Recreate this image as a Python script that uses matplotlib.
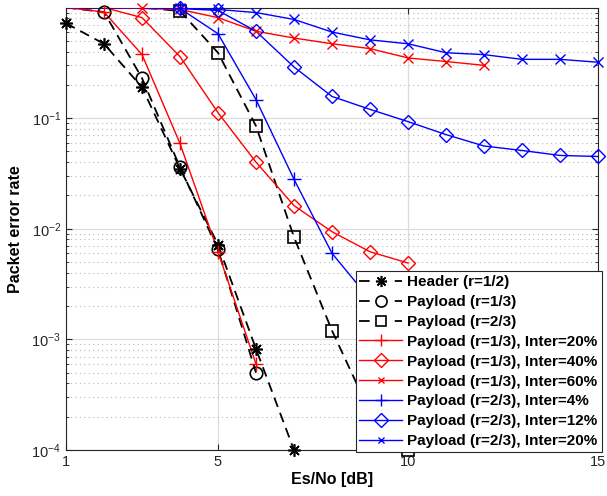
import numpy as np
import matplotlib
matplotlib.use('Agg')
import matplotlib.pyplot as plt
from matplotlib.lines import Line2D
from matplotlib.ticker import LogLocator, NullFormatter

plt.rcParams['font.family'] = ['Liberation Sans', 'DejaVu Sans']
plt.rcParams['mathtext.default'] = 'regular'

# Es/No points (dB)
esno = np.arange(1, 16)

# packet error rate per curve
header_12 = [0.72, 0.47, 0.19, 0.035, 0.0072, 8.2e-4, 1.0e-4]
payload_13 = [1.0, 0.91, 0.23, 0.036, 0.0065, 5.0e-4]
payload_23 = [1.0, 1.0, 1.0, 0.93, 0.39, 0.085, 0.0084, 1.2e-3, 2.2e-4, 1.0e-4]
p13_i20 = [1.0, 0.91, 0.376, 0.059, 0.0062, 6.0e-4]
p13_i40 = [1.0, 1.0, 0.81, 0.36, 0.112, 0.040, 0.0162, 0.0094, 0.0062, 0.0049]
p13_i60 = [1.0, 1.0, 0.98, 0.96, 0.81, 0.61, 0.53, 0.47, 0.425, 0.35, 0.325, 0.30]
p23_i4 = [1.0, 1.0, 1.0, 0.98, 0.58, 0.147, 0.028, 0.006, 2.3e-3, 1.0e-3]
p23_i12 = [1.0, 1.0, 1.0, 0.98, 0.94, 0.61, 0.29, 0.157, 0.12, 0.093, 0.071, 0.056, 0.051, 0.046, 0.045]
p23_i20 = [1.0, 1.0, 1.0, 0.985, 0.96, 0.90, 0.78, 0.60, 0.51, 0.47, 0.39, 0.375, 0.34, 0.34, 0.32]

labels = ['Header (r=1/2)', 'Payload (r=1/3)', 'Payload (r=2/3)',
          'Payload (r=1/3), Inter=20%', 'Payload (r=1/3), Inter=40%',
          'Payload (r=1/3), Inter=60%', 'Payload (r=2/3), Inter=4%',
          'Payload (r=2/3), Inter=12%', 'Payload (r=2/3), Inter=20%']
series = [header_12, payload_13, payload_23, p13_i20, p13_i40, p13_i60, p23_i4, p23_i12, p23_i20]
colors = ['k', 'k', 'k', 'r', 'r', 'r', 'b', 'b', 'b']
markers = [(8, 2, 0), 'o', 's', '+', 'D', 'x', '+', 'D', 'x']
msizes = [9, 9, 8, 10, 7.5, 7, 10, 7.5, 7]
leg_ms = [8, 8, 7, 8, 7.5, 5, 8, 7.5, 5]
styles = ['--', '--', '--', '-', '-', '-', '-', '-', '-']
lwidths = [1.3, 1.3, 1.3, 1.0, 1.0, 1.0, 1.0, 1.0, 1.0]

ytop = 0.99  # points at PER=1 sit just above the frame, like the original

fig = plt.figure(figsize=(6.07, 4.96), dpi=100)
ax = fig.add_axes([0.1087, 0.0927, 0.8765, 0.8912])

handles = []
for s, c, m, ms, lms, ls, lw, lab in zip(series, colors, markers, msizes, leg_ms, styles, lwidths, labels):
    y = np.array(s)
    x = esno[:len(y)]
    kw = dict(color=c, lw=lw, ls=ls)
    lkw = dict(color=c, lw=lw, ls=ls)
    if ls == '--':
        kw['dashes'] = (5.5, 3.5)
        lkw['dashes'] = (5.9, 13.9)
    ax.plot(x, y, zorder=3, **kw)
    keep = y < ytop
    ax.plot(x[keep], y[keep], ls='none', marker=m, ms=ms, mfc='none', mec=c,
            mew=1.2 if c == 'k' else 1.0, clip_on=False, zorder=4)
    handles.append(Line2D([], [], marker=m, ms=lms, mfc='none', mec=c,
                          mew=1.2 if c == 'k' else 1.0, label=lab, **lkw))

ax.set_yscale('log')
ax.set_xlim(1, 15)
ax.set_ylim(1e-4, ytop)
ax.set_xticks([1, 5, 10, 15])
ax.set_yticks([1e-4, 1e-3, 1e-2, 1e-1])
ax.yaxis.set_minor_locator(LogLocator(base=10, subs=np.arange(2, 10)))
ax.yaxis.set_minor_formatter(NullFormatter())

ax.grid(which='major', color='#dcdcdc', lw=0.9, ls='-', zorder=0)
ax.grid(which='minor', axis='y', color='#b8b8b8', lw=0.8, ls=(0, (1, 3)), zorder=0)
ax.set_axisbelow(True)

ax.tick_params(which='both', direction='in', top=True, right=True, labelsize=10.5, colors='#262626')
ax.tick_params(which='major', length=4)
ax.tick_params(which='minor', length=2)
for sp in ax.spines.values():
    sp.set_color('#262626')
    sp.set_linewidth(0.8)

ax.set_xlabel('Es/No [dB]', fontsize=11.5, fontweight='bold', labelpad=2)
ax.set_ylabel('Packet error rate', fontsize=11.5, fontweight='bold', labelpad=6)

leg = ax.legend(handles=handles, loc='lower right', bbox_to_anchor=(0.991, 0.0887),
                bbox_transform=fig.transFigure, borderaxespad=0,
                prop={'weight': 'bold', 'size': 11}, handlelength=2.8, handletextpad=0.35,
                labelspacing=0.385, borderpad=0.25,
                fancybox=False, framealpha=1, edgecolor='#262626')
leg.get_frame().set_linewidth(0.8)
leg.set_zorder(10)

fig.savefig('out.png', dpi=100)
